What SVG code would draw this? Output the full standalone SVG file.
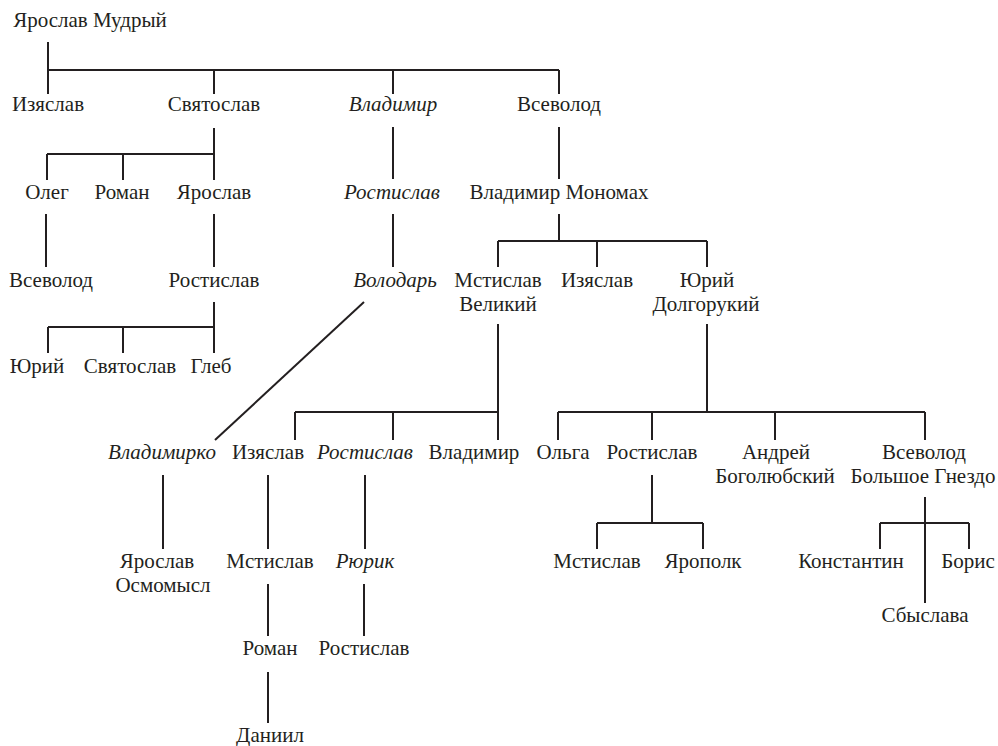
<svg xmlns="http://www.w3.org/2000/svg" width="998" height="746" viewBox="0 0 998 746">
<style>
text{font-family:"Liberation Serif","Times New Roman",serif;font-size:21px;fill:#231f20;text-anchor:middle}
.i{font-style:italic}
#connectors path{fill:none;stroke:#231f20;stroke-width:2}
</style>
<rect width="998" height="746" fill="#fff"/>
<g id="connectors">
<path d="M48 42V94M48 70H559M214 70V94M393 70V94M559 70V94"/>
<path d="M214 128V180M47 154H214M47 154V180M123 154V180"/>
<path d="M46 214V267M214 214V267M393 127V179M393 214V267M559 127V179"/>
<path d="M214 302V353M48 327H214M48 327V353M123 327V353"/>
<path d="M559 214V241M498 241H707M498 241V267M597 241V267M707 241V267"/>
<path d="M364 302L215 440"/>
<path d="M498 324V440M295 412H498M295 412V440M393 412V440"/>
<path d="M707 324V412M558 412H925M558 412V440M652 412V440M775 412V440M925 412V440"/>
<path d="M163 475V549M268 475V549M365 475V549"/>
<path d="M652 475V523M597 523H703M597 523V549M703 523V549"/>
<path d="M925 497V603M880 523H969M880 523V549M969 523V549"/>
<path d="M268 584V636M364 584V636M268 672V723"/>
</g>
<g id="n1"><text x="90" y="27">Ярослав Мудрый</text></g>
<g id="n2"><text x="48" y="111">Изяслав</text></g>
<g id="n3"><text x="214" y="111">Святослав</text></g>
<g id="n4"><text class="i" x="393" y="111">Владимир</text></g>
<g id="n5"><text x="559" y="111">Всеволод</text></g>
<g id="n6"><text x="47" y="199">Олег</text></g>
<g id="n7"><text x="122" y="199">Роман</text></g>
<g id="n8"><text x="214" y="199">Ярослав</text></g>
<g id="n9"><text class="i" x="392" y="199">Ростислав</text></g>
<g id="n10"><text x="559" y="199">Владимир Мономах</text></g>
<g id="n11"><text x="51" y="287">Всеволод</text></g>
<g id="n12"><text x="214" y="287">Ростислав</text></g>
<g id="n13"><text class="i" x="395" y="287">Володарь</text></g>
<g id="n14"><text x="498" y="287">Мстислав</text><text x="498" y="311">Великий</text></g>
<g id="n15"><text x="597" y="287">Изяслав</text></g>
<g id="n16"><text x="707" y="287">Юрий</text><text x="706" y="311">Долгорукий</text></g>
<g id="n17"><text x="37" y="373">Юрий</text></g>
<g id="n18"><text x="130" y="373">Святослав</text></g>
<g id="n19"><text x="211" y="373">Глеб</text></g>
<g id="n20"><text class="i" x="162" y="459">Владимирко</text></g>
<g id="n21"><text x="268" y="459">Изяслав</text></g>
<g id="n22"><text class="i" x="365" y="459">Ростислав</text></g>
<g id="n23"><text x="474" y="459">Владимир</text></g>
<g id="n24"><text x="563" y="459">Ольга</text></g>
<g id="n25"><text x="652" y="459">Ростислав</text></g>
<g id="n26"><text x="776" y="459">Андрей</text><text x="775" y="483">Боголюбский</text></g>
<g id="n27"><text x="924" y="459">Всеволод</text><text x="923" y="483">Большое Гнездо</text></g>
<g id="n28"><text x="157" y="568">Ярослав</text><text x="163" y="592">Осмомысл</text></g>
<g id="n29"><text x="270" y="568">Мстислав</text></g>
<g id="n30"><text class="i" x="365" y="568">Рюрик</text></g>
<g id="n31"><text x="597" y="568">Мстислав</text></g>
<g id="n32"><text x="703" y="568">Ярополк</text></g>
<g id="n33"><text x="851" y="568">Константин</text></g>
<g id="n34"><text x="968" y="568">Борис</text></g>
<g id="n35"><text x="925" y="622">Сбыслава</text></g>
<g id="n36"><text x="270" y="655">Роман</text></g>
<g id="n37"><text x="364" y="655">Ростислав</text></g>
<g id="n38"><text x="270" y="742">Даниил</text></g>
</svg>
